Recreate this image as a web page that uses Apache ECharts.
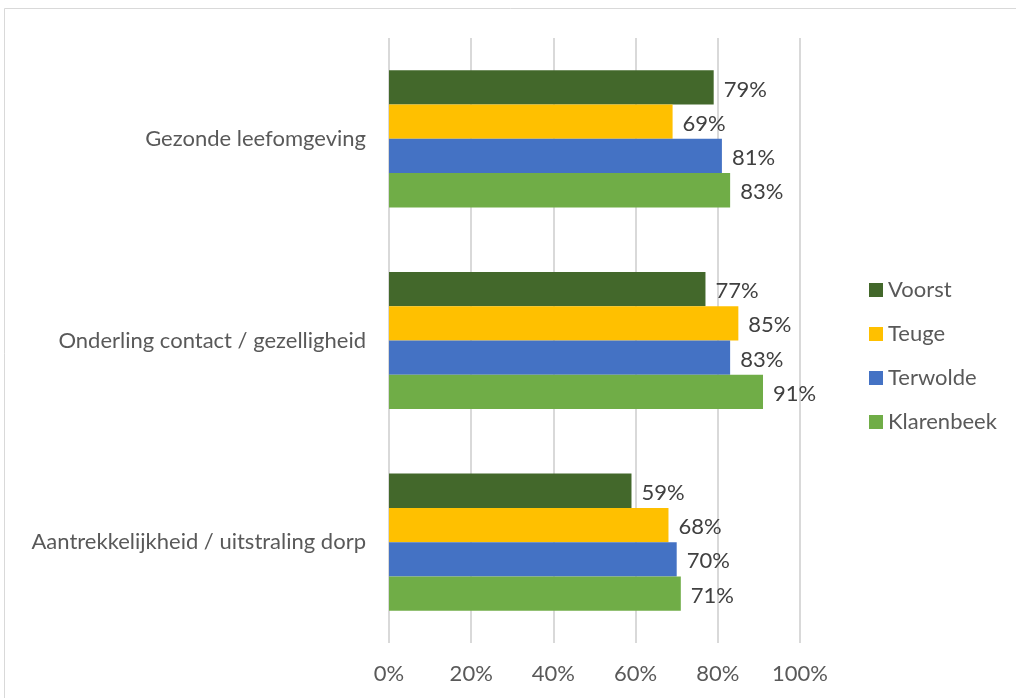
<!DOCTYPE html>
<html>
<head>
<meta charset="utf-8">
<script src="https://cdn.jsdelivr.net/npm/echarts@6/dist/echarts.min.js"></script>
<style>
    html, body { margin: 0; padding: 0; background: #fff; }
    #chart { width: 1016px; height: 698px; }
</style>
</head>
<body>
<div id="chart"></div>
<script>
// categories from bottom to top (ECharts draws category axis upward)
const categories = ['Aantrekkelijkheid / uitstraling dorp', 'Onderling contact / gezelligheid', 'Gezonde leefomgeving'];
const voorst = [59, 77, 79];
const teuge = [68, 85, 69];
const terwolde = [70, 83, 81];
const klarenbeek = [71, 91, 83];
const xTicks = [0, 20, 40, 60, 80, 100];

const FONT = 'Lato';
const FS = 22;
const chart = echarts.init(document.getElementById('chart'));

const mkSeries = (name, data, color) => ({
    name: name,
    type: 'bar',
    data: data,
    barGap: '0%',
    barCategoryGap: '32%',
    itemStyle: { color: color },
    label: {
        show: true,
        position: 'right',
        distance: 10,
        offset: [0, 2],
        formatter: '{c}%',
        color: '#404040',
        fontFamily: FONT,
        fontSize: FS
    }
});

chart.setOption({
    animation: false,
    graphic: [{
        type: 'rect',
        shape: { x: 4.5, y: 8.5, width: 1100, height: 800 },
        style: { fill: 'none', stroke: '#d9d9d9', lineWidth: 1 }
    }],
    grid: { left: 389, right: 216, top: 38, bottom: 55 },
    legend: {
        orient: 'vertical',
        left: 864,
        top: 274,
        itemWidth: 14,
        itemHeight: 14,
        itemGap: 22,
        icon: 'rect',
        data: ['Voorst', 'Teuge', 'Terwolde', 'Klarenbeek'],
        textStyle: { color: '#595959', fontFamily: FONT, fontSize: FS, lineHeight: 22 }
    },
    xAxis: {
        type: 'value',
        min: xTicks[0],
        max: xTicks[xTicks.length - 1],
        interval: 20,
        axisLine: { show: false },
        axisTick: { show: false },
        axisLabel: {
            formatter: '{value}%',
            margin: 20,
            color: '#595959',
            fontFamily: FONT,
            fontSize: FS
        },
        splitLine: { lineStyle: { color: '#d9d9d9', width: 2 } }
    },
    yAxis: {
        type: 'category',
        data: categories,
        axisLine: { show: false },
        axisTick: { show: false },
        axisLabel: {
            margin: 23,
            color: '#595959',
            fontFamily: FONT,
            fontSize: FS
        }
    },
    series: [
        mkSeries('Voorst', voorst, '#43682B'),
        mkSeries('Teuge', teuge, '#FFC000'),
        mkSeries('Terwolde', terwolde, '#4472C4'),
        mkSeries('Klarenbeek', klarenbeek, '#70AD47')
    ]
});
</script>
</body>
</html>
